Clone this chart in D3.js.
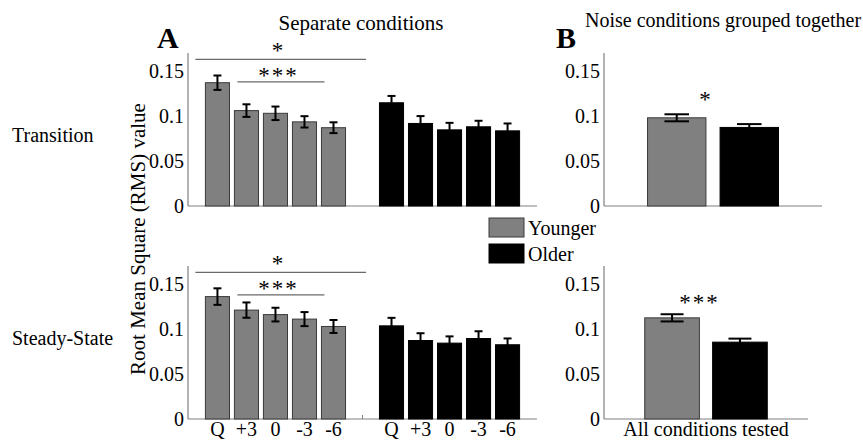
<!DOCTYPE html>
<html>
<head>
<meta charset="utf-8">
<script src="https://cdn.jsdelivr.net/npm/d3@7"></script>
<style>
  body { margin: 0; background: #fff; }
</style>
</head>
<body>
<svg id="chart" width="863" height="441"></svg>
<script>
// conditions (Q = quiet, then SNR in dB)
const conditions = ["Q", "+3", "0", "-3", "-6"];
const groups = ["Younger", "Older"];
const yTicks = [0, 0.05, 0.1, 0.15];

// RMS values
const transYoung = [0.137, 0.106, 0.103, 0.0935, 0.087];
const transYoungErr = [0.008, 0.007, 0.0075, 0.0063, 0.006];
const transOld = [0.1147, 0.0917, 0.0846, 0.088, 0.0835];
const transOldErr = [0.0076, 0.0082, 0.0078, 0.0067, 0.0082];

const steadyYoung = [0.136, 0.121, 0.116, 0.111, 0.1028];
const steadyYoungErr = [0.0092, 0.0085, 0.0076, 0.0078, 0.0072];
const steadyOld = [0.1035, 0.0872, 0.0843, 0.0894, 0.0825];
const steadyOldErr = [0.0089, 0.0081, 0.0075, 0.0081, 0.007];

// noise conditions grouped together
const groupedTrans = [0.098, 0.0873];
const groupedTransErr = [0.0039, 0.0037];
const groupedSteady = [0.1124, 0.0854];
const groupedSteadyErr = [0.004, 0.0039];

// significance markers (y in data units)
const sigA = [
  { label: "*", from: 0, to: 5, y: 0.163 },
  { label: "***", from: 1, to: 4, y: 0.138 }
];
const sigB = ["*", "***"];
const sigBy = [0.11, 0.1216];

const colors = { Younger: "#808080", Older: "#000000" };
const FONT = "'Liberation Serif', 'Times New Roman', serif";

const svg = d3.select("#chart");
const yMax = 0.17;

// slot keys for panel A: 5 younger, a gap, 5 older
const slotsA = conditions.map((c, i) => "Y" + i).concat(["gap"], conditions.map((c, i) => "O" + i));

function label(parent) {
  return parent.append("text").style("font-family", FONT).attr("fill", "#000");
}

function drawYAxis(g, y, x0) {
  g.append("line")
    .attr("x1", x0).attr("x2", x0)
    .attr("y1", y(0)).attr("y2", y(yMax))
    .attr("stroke", "#808080").attr("stroke-width", 1.2);
  yTicks.forEach(d => {
    label(g)
      .attr("x", x0 - 4)
      .attr("y", y(d))
      .attr("dy", "0.33em")
      .attr("text-anchor", "end")
      .attr("font-size", 20)
      .text(d3.format("")(d));
  });
}

function drawBars(g, rows, x, y) {
  g.selectAll(".bar")
    .data(rows)
    .enter().append("rect")
    .attr("x", d => x(d.key))
    .attr("width", x.bandwidth())
    .attr("y", d => y(d.value))
    .attr("height", d => y(0) - y(d.value))
    .attr("fill", d => colors[d.group])
    .attr("stroke", d => d.group === "Younger" ? "#3a3a3a" : "#000")
    .attr("stroke-width", 1);
}

function drawErrors(g, rows, x, y, capW) {
  const eb = g.selectAll(".err")
    .data(rows)
    .enter().append("g")
    .attr("stroke", "#000")
    .attr("stroke-width", 2);
  eb.append("line")
    .attr("x1", d => x(d.key) + x.bandwidth() / 2)
    .attr("x2", d => x(d.key) + x.bandwidth() / 2)
    .attr("y1", d => y(d.value - d.err))
    .attr("y2", d => y(d.value + d.err));
  [1, -1].forEach(s => {
    eb.append("line")
      .attr("x1", d => x(d.key) + x.bandwidth() / 2 - capW / 2)
      .attr("x2", d => x(d.key) + x.bandwidth() / 2 + capW / 2)
      .attr("y1", d => y(d.value + s * d.err))
      .attr("y2", d => y(d.value + s * d.err));
  });
}

function panelA(top, young, youngErr, old, oldErr, withLabels) {
  const g = svg.append("g");
  const y = d3.scaleLinear().domain([0, yMax]).range([top + 153, top]);
  const x = d3.scaleBand().domain(slotsA).range([188, 537]).paddingInner(0.17).paddingOuter(0.6);

  // x axis baseline
  g.append("line")
    .attr("x1", 188).attr("x2", 537)
    .attr("y1", y(0)).attr("y2", y(0))
    .attr("stroke", "#808080").attr("stroke-width", 1.2);
  if (withLabels) {
    g.append("line")
      .attr("x1", x("gap") + x.bandwidth() / 2).attr("x2", x("gap") + x.bandwidth() / 2)
      .attr("y1", y(0)).attr("y2", y(0) - 4)
      .attr("stroke", "#808080");
  }
  drawYAxis(g, y, 188);

  const rows = young.map((v, i) => ({ key: "Y" + i, value: v, err: youngErr[i], group: "Younger" }))
    .concat(old.map((v, i) => ({ key: "O" + i, value: v, err: oldErr[i], group: "Older" })));
  drawBars(g, rows, x, y);
  drawErrors(g, rows, x, y, 8);

  // significance brackets
  sigA.forEach((s, i) => {
    const x1 = i === 0 ? x(slotsA[s.from]) - 10 : x(slotsA[s.from]) + 3;
    const x2 = i === 0 ? x(slotsA[s.to]) + x.bandwidth() * 0.65 : x(slotsA[s.to]) + 3;
    g.append("line")
      .attr("x1", x1).attr("x2", x2)
      .attr("y1", y(s.y)).attr("y2", y(s.y))
      .attr("stroke", "#6a6a6a").attr("stroke-width", 1.2);
    label(g)
      .attr("x", (x(slotsA[0]) + x(slotsA[4]) + x.bandwidth()) / 2 + 3)
      .attr("y", y(s.y) + (i === 0 ? -1 : 1))
      .attr("text-anchor", "middle")
      .attr("font-size", 23)
      .attr("letter-spacing", 2)
      .text(s.label);
  });

  if (withLabels) {
    slotsA.filter(k => k !== "gap").forEach(d => {
      label(g)
        .attr("x", x(d) + x.bandwidth() / 2)
        .attr("y", y(0) + 17)
        .attr("text-anchor", "middle")
        .attr("font-size", 20)
        .text(conditions[+d.slice(1)]);
    });
  }
}

function panelB(top, right, vals, errs, sig, sigY, withLabel) {
  const g = svg.append("g");
  const y = d3.scaleLinear().domain([0, yMax]).range([top + 153, top]);
  const x = d3.scaleBand().domain(groups).range([604, right]).paddingInner(0.195).paddingOuter(0.6);

  g.append("line")
    .attr("x1", 604).attr("x2", right)
    .attr("y1", y(0)).attr("y2", y(0))
    .attr("stroke", "#808080").attr("stroke-width", 1.2);
  drawYAxis(g, y, 604);

  const rows = vals.map((v, i) => ({ key: groups[i], value: v, err: errs[i], group: groups[i] }));
  drawBars(g, rows, x, y);
  drawErrors(g, rows, x, y, x.bandwidth() * 0.42);

  label(g)
    .attr("x", x("Younger") + x.bandwidth())
    .attr("y", y(sigY))
    .attr("text-anchor", "middle")
    .attr("font-size", 23)
    .attr("letter-spacing", 2)
    .text(sig);

  if (withLabel) {
    label(g)
      .attr("x", (604 + right) / 2)
      .attr("y", y(0) + 17)
      .attr("text-anchor", "middle")
      .attr("font-size", 20)
      .text("All conditions tested");
  }
}

panelA(53, transYoung, transYoungErr, transOld, transOldErr, false);
panelA(266, steadyYoung, steadyYoungErr, steadyOld, steadyOldErr, true);
panelB(53, 822, groupedTrans, groupedTransErr, sigB[0], sigBy[0], false);
panelB(266, 808, groupedSteady, groupedSteadyErr, sigB[1], sigBy[1], true);

// titles and panel letters
label(svg).attr("x", 361).attr("y", 30).attr("text-anchor", "middle")
  .attr("font-size", 21).text("Separate conditions");
label(svg).attr("x", 585).attr("y", 27)
  .attr("font-size", 20).text("Noise conditions grouped together");
label(svg).attr("x", 157).attr("y", 48)
  .attr("font-size", 30).attr("font-weight", "bold").text("A");
label(svg).attr("x", 556).attr("y", 48)
  .attr("font-size", 30).attr("font-weight", "bold").text("B");

// row labels
label(svg).attr("x", 12).attr("y", 142).attr("font-size", 20).text("Transition");
label(svg).attr("x", 12).attr("y", 345).attr("font-size", 20).text("Steady-State");

// y axis title
label(svg)
  .attr("transform", "translate(145,239) rotate(-90)")
  .attr("text-anchor", "middle")
  .attr("font-size", 21)
  .text("Root Mean Square (RMS) value");

// legend
const legend = svg.append("g").attr("transform", "translate(489,218)");
groups.forEach((gname, i) => {
  legend.append("rect")
    .attr("x", 0).attr("y", i * 26)
    .attr("width", 35).attr("height", 19)
    .attr("fill", colors[gname])
    .attr("stroke", gname === "Younger" ? "#3a3a3a" : "#000");
  label(legend)
    .attr("x", 39).attr("y", i * 26 + 17)
    .attr("font-size", 20)
    .text(gname);
});
</script>
</body>
</html>
